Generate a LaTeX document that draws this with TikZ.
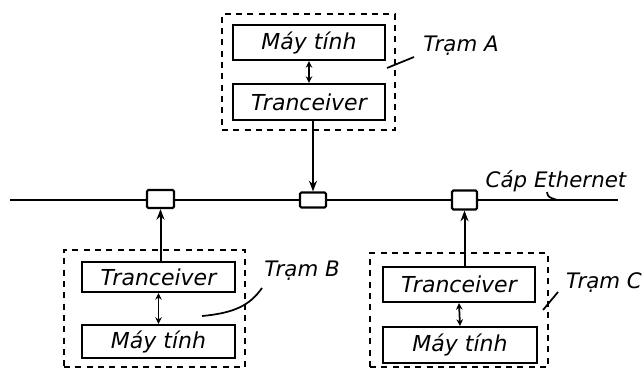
\documentclass[tikz,border=0pt]{standalone}
\usepackage{fontspec}
\setmainfont{DejaVu Sans}
\usetikzlibrary{arrows.meta}
\begin{document}
\begin{tikzpicture}[x=0.75pt,y=-0.75pt,
  txt/.style={font=\fontsize{16}{19}\selectfont\itshape, inner sep=0pt},
  box/.style={draw, line width=1.6pt, minimum width=114pt, inner sep=0pt, font=\fontsize{16.5}{19}\selectfont\itshape},
  dashbox/.style={draw, line width=1.4pt, dash pattern=on 4.5pt off 4pt, inner sep=0pt},
  tap/.style={draw, fill=white, line width=1.6pt, rounded corners=1pt, inner sep=0pt},
  cable/.style={line width=1.5pt},
  arr/.style={line width=1.5pt, -{Stealth[length=8pt,width=6pt]}},
  darr/.style={line width=1.3pt, {Stealth[length=5pt,width=5pt]}-{Stealth[length=5pt,width=5pt]}},
  lead/.style={line width=1.3pt}
]
\useasboundingbox (0,0) rectangle (642,374);
% Station A
\node[dashbox, minimum width=129.75pt, minimum height=87pt] (sA) at (308.5,72) {};
\node[box, minimum height=26.25pt] (aM) at (309,42.5) {Máy tính};
\node[box, minimum height=27pt] (aT) at (309,102) {Tranceiver};
\draw[darr] (aM.south) -- (aT.north);
% Station B
\node[dashbox, minimum width=135.75pt, minimum height=87.75pt] (sB) at (154.5,308.5) {};
\node[box, minimum width=114.75pt, minimum height=22.5pt] (bT) at (158.5,277) {Tranceiver};
\node[box, minimum width=114.75pt, minimum height=24.75pt] (bM) at (158.5,341.5) {Máy tính};
\draw[darr] (bT.south) -- (bM.north);
% Station C
\node[dashbox, minimum width=133.5pt, minimum height=85.5pt] (sC) at (459,310) {};
\node[box, minimum height=26.25pt] (cT) at (459,284.5) {Tranceiver};
\node[box, minimum width=115.5pt, minimum height=27pt] (cM) at (460,345) {Máy tính};
\draw[darr] (cT.south) -- (cM.north);
% Ethernet cable
\coordinate (eL) at (10,200);
\coordinate (eR) at (618,200);
\node[tap, minimum width=20.25pt, minimum height=13.5pt] (tB) at (160.5,199) {};
\node[tap, minimum width=19.5pt, minimum height=11.25pt] (tA) at (313,200) {};
\node[tap, minimum width=18.75pt, minimum height=14.25pt] (tC) at (464.5,200) {};
\draw[cable] (eL) -- (eL -| tB.west);
\draw[cable] (eL -| tB.east) -- (eL -| tA.west);
\draw[cable] (eL -| tA.east) -- (eL -| tC.west);
\draw[cable] (eL -| tC.east) -- (eR);
% connections to cable
\draw[arr] (aT.south -| tA.north) -- (tA.north);
\draw[arr] (bT.north -| tB.south) -- (tB.south);
\draw[arr] (cT.north -| tC.south) -- (tC.south);
% labels
\node[txt] (lA) at (461,46) {Trạm A};
\node[txt] (lB) at (302,271) {Trạm B};
\node[txt] (lC) at (604,283) {Trạm C};
\node[txt] (lE) at (556,181) {Cáp Ethernet};
\coordinate (pA1) at (387,68);
\coordinate (pA2) at (414,57);
\draw[lead] (pA1) -- (pA2);
\coordinate (pB1) at (202,316);
\coordinate (pB2) at (262,288);
\draw[lead] (pB1) .. controls (235,313) and (250,305) .. (pB2);
\coordinate (pC1) at (543,310);
\coordinate (pC2) at (558,292);
\draw[lead] (pC1) -- (pC2);
\coordinate (pE1) at (547,192);
\coordinate (pE2) at (557,200);
\draw[lead] (pE1) .. controls (548,197) .. (pE2);
\end{tikzpicture}
\end{document}
